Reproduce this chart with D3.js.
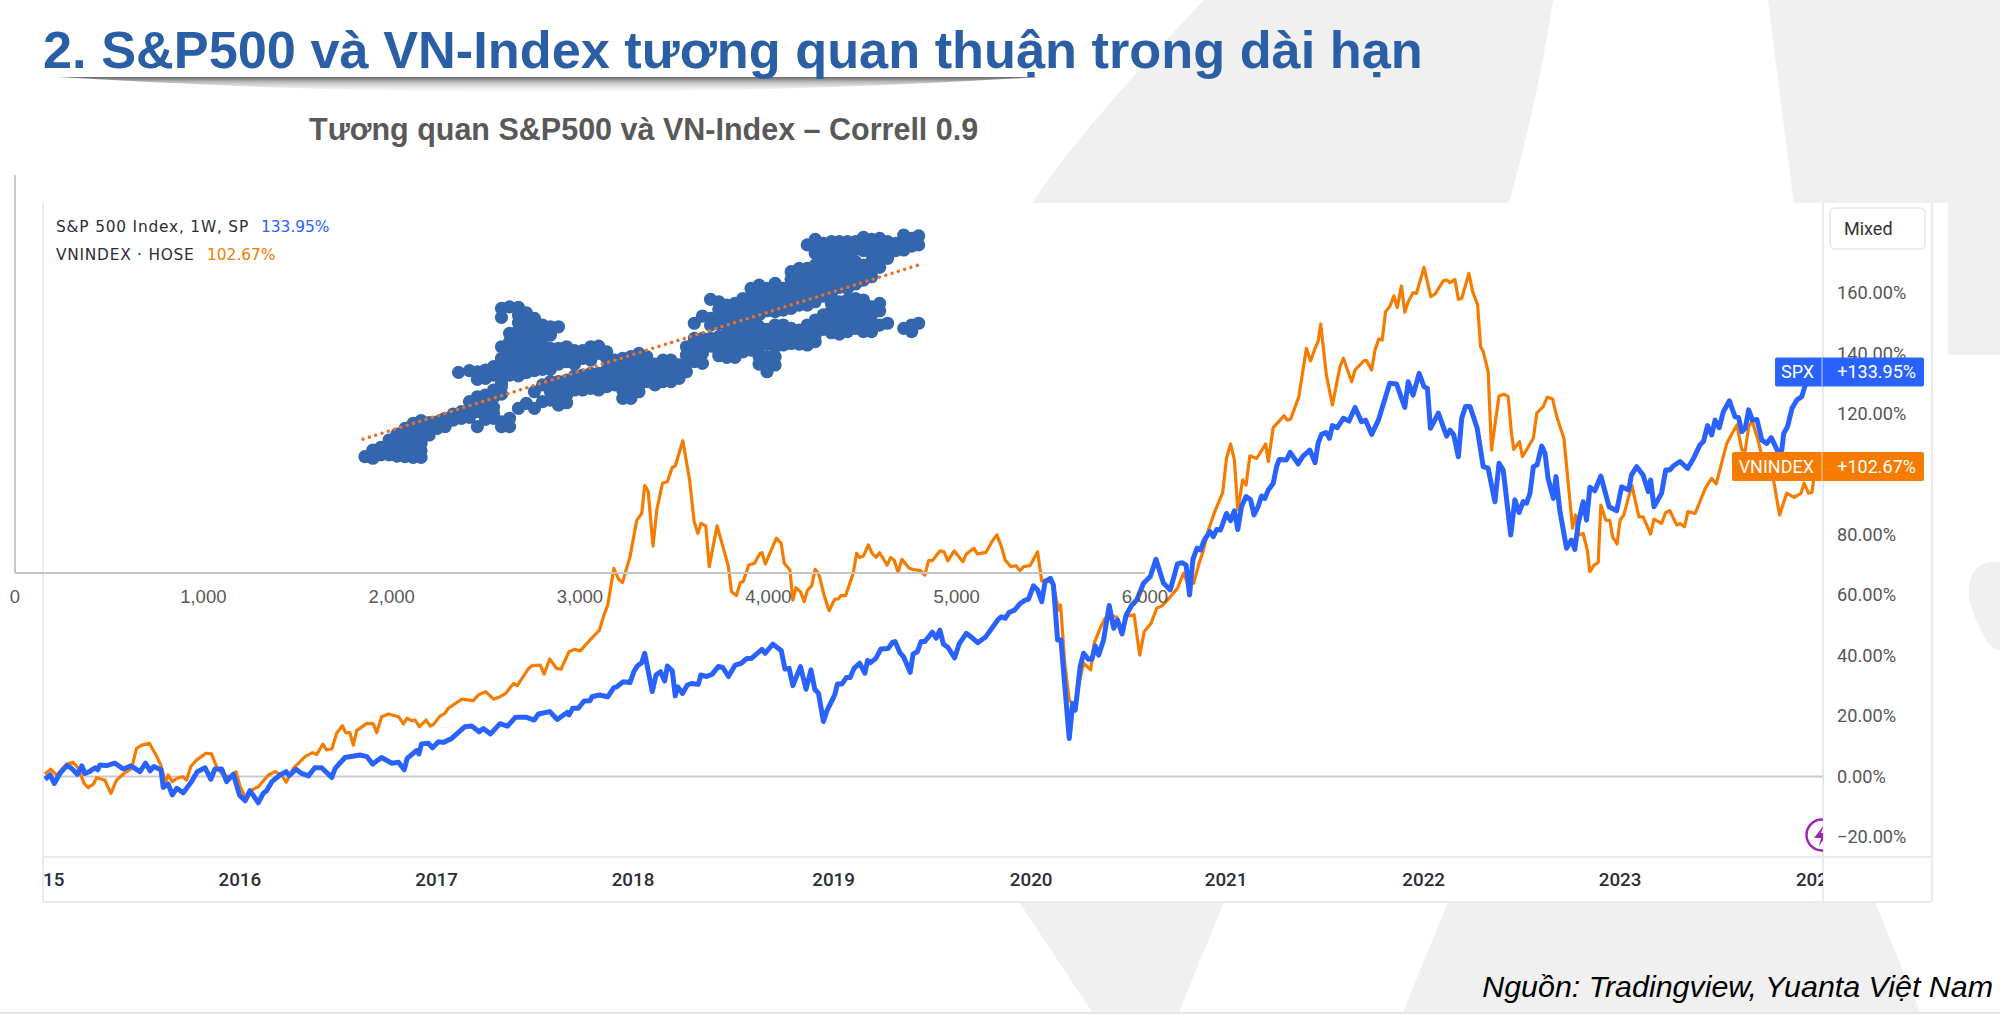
<!DOCTYPE html>
<html lang="vi"><head><meta charset="utf-8">
<script src="https://cdn.jsdelivr.net/npm/d3@7/dist/d3.min.js"></script>
<style>html,body{margin:0;padding:0;background:#fff}svg{display:block}</style>
</head><body><svg id="c" width="2000" height="1015"></svg>
<script>
const titleText="2. S&P500 và VN-Index tương quan thuận trong dài hạn";
const subtitleText="Tương quan S&P500 và VN-Index – Correll 0.9";
const sourceText="Nguồn: Tradingview, Yuanta Việt Nam";
const yearLabels=["2015","2016","2017","2018","2019","2020","2021","2022","2023","2024"];
const yearWeeks=[0,52.2,104.4,156.5,209.7,262.1,313.8,366.2,418.3,470.6];
const pctShown=[-20,0,20,40,60,80,120,140,160];
const scatterTicks=[0,1000,2000,3000,4000,5000,6000];
const spxWeeks=[0.5,1.9,3,4.5,6.3,7.6,9.1,10.3,11.1,12.3,13.8,14.5,15.1,16.9,19.1,21.3,23.3,25.7,27.2,28.4,29.4,31.3,31.9,33.2,34.3,35.5,37.2,39.4,40.9,43,44.5,45.6,47.4,48.7,50.5,52.1,53.6,54.9,57.1,58.4,59.3,60.7,62.9,64.5,65.3,67.1,68.6,70.4,72.1,73.9,76.6,77.5,80.1,84.1,85.9,87.4,89.8,92.5,94.3,95.8,96.6,99.1,99.7,100.4,102.2,103.3,104.9,106.2,108.4,111.9,113.7,115.7,116.8,118.7,121.2,123.2,125.3,128.3,130.3,131.4,134.4,136.4,139,139.5,140.5,142,143.5,145.1,145.6,147.6,149.8,151.4,152.2,153.9,155.7,156.7,157.7,158.8,159.6,161.6,162.6,163.8,164.9,165.6,166.9,167.7,168.4,169.6,170.9,172,173.8,174.5,176,177.5,179.1,180.3,181.8,183.6,185.2,186.7,187.9,190.7,191.5,193.6,195.8,196.8,197.9,198.9,200.9,202.4,203.7,204.7,205.7,207,208,210,210.7,211.9,213.1,214.1,215.1,216.6,218,218.7,219.5,220.9,222.2,224.2,225.3,226,227.3,228.3,230,230.8,231.9,232.9,233.9,235.9,236.9,237.9,238.8,240,241.8,243,244.9,246.1,247.9,250.1,253.2,254.2,255.2,256.2,257.7,259.2,260.5,261.4,262.7,263.8,264.9,265.8,267.2,268,269.1,270,272.2,273.1,273.8,275.1,276,277.3,278.2,279.1,280,281.3,282.8,284,285,286.2,287.3,288.8,290.1,291.9,293.7,295.2,297.2,299,300.9,302.1,303.2,304.1,305,306.1,307,308,309.5,310.4,311.3,312.3,313.9,315,316,316.9,317.9,319.1,320.3,321.2,322.3,323.2,324.1,325,326.3,327.2,327.9,329.8,330.8,332.9,334.1,336,337.4,338.2,339.1,340.3,341.2,342,343.3,344.9,346.4,348,349.7,350.8,352.4,354.2,357.2,359,361.2,362.1,363.4,365,366.3,367.2,368,370.1,372.3,373.2,374.2,375.4,376.3,377.3,378.5,380.4,382,383.3,385.1,386.2,387.3,389.3,390.4,391.5,392.6,393.5,394.4,395.3,396.3,397.5,398.4,399.2,400.6,401.3,402.3,404.1,405.4,406.3,407.2,408.5,409.4,410.3,411.6,413.2,415.4,417.4,418.7,420.6,421.3,422.7,424.4,425.8,426.4,427.3,429.3,430.4,431.5,432.4,434.2,436.2,437.8,439.5,440.4,441.5,442.6,443.5,444.6,445.7,447.3,448.8,449.7,450.6,451.5,452.4,453.4,454.6,455.9,457.2,458.4,460.3,461.2,461.7,462.7,463.9,465.2,466.5,467.4,468.3,470];
const spxPct=[-0.9,0.5,-2.3,1,3.6,2.7,0.7,3.5,1,1.6,2.9,2.2,3.8,3.6,4.4,2.5,3.5,1.6,4.4,1.9,3.3,2.2,-3.6,-2.5,-6.1,-3.9,-5.4,-1.7,1.6,2.9,-0.9,2.5,2.5,-1.7,0.8,-6.1,-8,-4.7,-8.7,-5.6,-4.7,-1.7,0.5,1.6,0.3,2.4,1,0.2,2.9,2.9,-0.3,2.7,6.3,7.1,6.6,4.1,6.3,4.4,4.7,2.2,6,8.6,7.5,10.8,11,9.5,11.5,11.3,12.6,16.5,16.7,14.8,15.9,14.1,17.5,16.7,19.6,19.6,18.7,20.7,21.5,18.9,21.2,20.4,22.6,22.6,25,25.1,26.4,27,26.4,29.4,29.7,31.4,31.1,34.7,36.7,37.7,40.8,28.1,33.6,34.7,31.6,36.6,35,26.7,29.7,27.5,30.3,30.8,30.5,33.6,33.1,33.9,36.4,36.1,33.1,36.9,37.5,39.1,39.1,42.1,40.8,43.8,41.7,35.6,35.8,30.1,36.4,28.9,35.3,28.9,27.5,18.2,22,27,30.6,30.6,32.8,32.8,35.8,37.5,34.2,38.4,37.7,39.1,42.2,42.4,44.4,44.7,41,39.5,34.5,40.6,41.3,44.7,44.7,47.8,45.8,48.5,43.9,42.8,39.3,43.9,47.4,46.3,44.3,46.3,51.8,52.9,52.4,54.3,55.1,57.3,58.4,58.7,63.1,61.8,57.9,64.5,65.6,63.4,45.2,45.2,12.6,24.2,22,36.4,40.8,38.8,38.8,43.2,40.2,45.2,56.6,49.1,51.8,47.2,53.5,56.8,58.4,64,66.2,71.9,64,61.8,70.4,70.8,70,60.1,71.9,75.6,75,78.3,81.1,79.4,81.8,81.6,87.1,84.7,88,81.8,89.4,92.7,91.6,86.6,89.4,92.9,92.1,94.9,97.1,102.6,105,104.8,107.3,103.5,105.9,108.1,103.9,110.3,113.3,113.9,112,116.2,115.5,118.6,117.7,122.2,117.5,118,113.3,118,130.2,130,122.2,130.7,126.3,133.5,129.1,128.5,115.3,120.3,112.7,114.7,113.1,105.9,118.6,122.5,122.5,115.3,102.6,102.1,91,103.7,101.5,80,91.6,87.4,91,90.5,93.8,102.6,103.2,109.4,107,98.7,92.1,99.3,88.2,75.6,78.3,75.2,83.8,91,84.9,95.8,94.6,99.5,89.3,88,95.9,94.9,99.8,102.6,99.8,94.3,98.2,89.3,93.8,101.5,101.5,102.8,104.3,102,105.4,109.8,110.9,116.2,113.1,118,115.5,120.8,124.4,119.1,118.9,114.2,115.3,121.4,118,118.2,111.4,110.3,112.2,107.2,108.1,113.6,115.8,121.9,124.7,125.8,129.6,131,133.95];
const vnWeeks=[0.5,2,3.6,6.3,8,9.4,10.9,12,13.4,14.2,16.4,18,19.5,21.8,23.5,24.8,26.2,28.2,30.2,31.3,32.5,33.2,34.3,35.5,37,38.1,39.2,40.8,43.2,44.7,46.2,47.8,49.6,51.2,52.3,54,55.3,57.1,59.8,61.5,63.3,64.5,66.4,69.5,71.5,72.6,74.2,75.2,76.6,77.9,79.4,80.3,81.4,82.3,83.2,85.9,87.6,88.5,89.8,91.6,94.3,95.6,96.5,97.8,98.7,99.8,101.6,102.7,103.5,105.3,106.6,107.5,111.1,114.1,115.5,117.4,119.5,121.2,122.7,124.8,125.8,128.8,129.8,131.9,132.9,134.4,136.2,137.4,139.5,141,142.5,145.1,147.6,148.8,149.8,151.4,152.7,153.7,155.7,157.5,158.8,159.6,160.5,161.8,162.8,164.3,165.6,166.9,167.7,169.7,171.5,172.7,173.7,174.5,175.8,176.7,178.8,181.8,182.6,183.9,185,185.7,187.2,188.7,190.2,190.7,191.6,194.5,195.8,196.6,198.1,198.9,199.7,200.9,201.9,202.7,203.9,204.8,205.7,207.3,208.5,210,211,211.6,212.9,214.9,215.8,216.6,217.6,218.9,219.9,221,221.9,223.9,224.8,225.8,226.8,227.8,229.8,231.4,232.7,233.9,234.9,235.9,237.9,239,240,241.7,244,244.9,246.9,247.8,250.1,251.7,253,254.2,255.2,256.7,258.1,259.1,260.1,261.8,263.8,264.9,265.9,267.9,268.4,269.4,269.9,271,272.2,273,273.8,275.1,276,277.9,278.8,280.4,281.7,282.9,284.8,286.2,287.5,289.4,290.9,292.1,293.9,295.4,296.8,299,300.9,302.5,303.8,305.2,306.5,307.8,309.1,310.8,312.9,313.9,315,316,316.9,318.2,319.1,320.1,321.9,324.3,325,326.3,329.2,330,330.9,333.1,335.1,336.2,337.4,338.2,338.9,340.4,342,344,344.9,347.1,348,350.4,351.1,352.4,353.3,354.3,355.2,356.1,357.2,358.3,359.2,360.3,361.2,362.1,363.4,364.3,366.3,368.1,369.2,371.4,372.3,373.2,374.5,375.4,376.3,378.2,379.2,380.5,381.3,382,383.3,384.2,385.4,386.2,387.5,388.6,389.5,390.1,391.6,392.4,395.3,396.2,397.9,399,400.4,401.5,403.4,405.7,406.5,407.4,408.5,409.6,410.3,411.4,412.5,413.2,414.5,415.6,416.3,417.5,418.3,419.3,421.4,423.3,424.4,426.4,427.3,429.3,430.4,431.5,433.3,434.2,435.4,436.3,438.2,440.9,442.6,443.8,446.6,448,449.3,450.6,451.5,452.4,453.3,455,457.2,459,460.6,462.5,464.5,466.3,467.1,468.3,469.2,470.1];
const vnPct=[0.8,2.4,0.5,4.1,4.7,2.7,-2.3,-3.7,-2.5,-0.4,-1.2,-5.6,-1.2,1.3,2.7,9.3,10.4,11,6.6,3.6,-2,0.5,-1.7,-0.6,-0.1,-1.2,3.3,5.5,7.7,7.5,2.7,0.5,-0.1,1.6,-3.4,-7.8,-4.5,-3.4,0.5,1.6,0.5,-1.9,2.7,6.6,7.9,7.3,10.7,8.8,9.1,14.3,16.8,14.5,14.5,10.4,15.2,17.6,17.4,14.5,19.8,20.7,19.8,17.4,19.3,18.5,18.7,16.5,18.7,16.7,17.1,20,20.9,22.6,25.6,25.1,27,28.1,25.6,26.4,27.5,30.8,30.1,35.8,36.7,36.9,33.9,38.9,35.8,35.5,41.3,42.1,41.6,45.2,48.5,53.5,56.8,68.9,65.3,64.2,72.8,84.9,87.1,96.3,94.5,76.3,88.2,97.1,97.6,102.3,102.8,111.2,98.2,84.4,80.5,83.8,83,69.5,83,69.5,61.2,59.9,64.3,64.5,70,70.6,73.9,74.1,70.4,78.9,77.2,70.6,68.4,58.4,62.5,61.2,57.9,61.5,63.2,68.6,67.3,59.5,54.9,58.7,58.8,59.9,59.9,67.3,73.9,72.5,73,76.7,73.9,72.6,74.1,70,72.5,71.5,67.6,71.9,68.9,68.4,68.2,66.7,71.5,71.5,74.7,74.4,71.4,74.7,71.1,73.7,75.6,73.7,74.2,77.8,80,76.1,71.7,69.5,69.8,68.2,69.5,69.8,74.4,64.7,65.1,64,60.7,55.1,56.8,37.5,25.3,24.2,22.6,32.5,37.5,35.3,44.1,49.1,52.4,53.5,52.7,48.5,53.1,53.5,40.2,48,50.7,55.7,56.5,59.5,62.3,67.3,63.4,64,70,75,81.6,87.7,94,105.3,110.1,104.8,88.3,98.2,96.5,106.2,105.3,110.1,104.3,115.5,119.5,118,118.3,125.8,141.8,137.6,141.8,144,149.8,132.9,123,135.7,138.5,130.7,134.6,137.7,137.7,134.6,141.2,144.9,144.5,153.9,155.6,159.1,155.3,162.4,153.7,157.2,160.2,160,168.6,158.9,159.7,164.1,164.4,163.5,164.6,158,158.3,166.6,160.5,156.3,142.3,140.7,134.1,108.1,119.1,126,126.6,125.8,113.6,108.3,110.9,105.9,112,120.3,122.5,125.6,125,119.2,112,82.2,86.6,80,80.5,75,67.8,70,70.9,89.9,84.9,84.7,79.4,77,84.9,86.6,96.5,86,86,80.3,85.2,83.8,87.4,88,83.3,83.8,82.7,87.7,87.1,95.4,98.7,96.9,110.3,113.6,116.4,108.1,107.9,115.8,117.8,110.9,98.7,98.2,86.6,93.8,92.4,93.8,97.1,93.8,94.1,102.67];
// scatter: S&P 500 level (one entry per column) and the VN-Index levels read in that column
const scatterSp=[1858,1900,1943,1986,2028,2071,2114,2156,2199,2242,2284,2327,2355,2370,2413,2455,2498,2541,2583,2626,2673,2715,2758,2801,2843,2886,2929,2971,3014,3057,3099,3142,3185,3227,3270,3313,3355,3398,3441,3483,3526,3565,3607,3650,3693,3737,3780,3823,3865,3908,3951,3993,4036,4079,4121,4164,4207,4249,4292,4335,4377,4420,4463,4505,4548,4591,4633,4676,4719,4761,4798];
const scatterVn=[
[530],[560,523],[573,538],[606,573,538],[633,598,563,533],[659,624,591,557,530],[682,648,614,579,545,527],[694,659,624,591,557,527],
[685,651,629],[689,659],[705,667],[724,697],[914],[735,705],[922,781,746,709],[917,882,803,770,735,667],[925,887,811,776,743,700],[940,902,834,800,755,727,705],
[1206,1165,1031,978,948,910,864,849,815,689,667],[1213,1092,1054,1016,978,940,902,705,667],[1210,1176,1141,1107,1069,1034,1001,967,932,898,750],
[1186,1153,1119,1084,1049,1016,983,948,913,773],[1160,1125,1092,1059,1024,989,955,922,826,750],[1130,1100,1065,1031,998,963,928,857,781],
[1122,1084,1024,989,955,928,872,826,788],[1122,1024,989,952,872,841,803,765],[1031,998,963,879,849,811,776],[1013,978,952,898,864,834],[1013,978,902,864,834],
[1031,998,970,910,879,841],[1034,1001,910,872,834],[1008,978,925,887,849],[970,932,895,857],[978,943,910,872,834,796],[986,952,917,882,841,796],[1001,967,932,898,857,826],
[986,948,910,872],[952,917,882,857],[970,936,902,872],[970,932,895,872],[948,910,887],[1031,993,955,917],[1138,1069,1031,993,963],[1171,1069,1031,1001,955],[1247,1160,1130,1069,1034],
[1236,1201,1168,1134,1077,1043,1008,990],[1221,1186,1153,1122,1084,1049,1016,983],[1229,1195,1160,1130,1084,1049,1016,983],[1251,1217,1183,1150,1107,1074,1039,1008],
[1297,1262,1229,1195,1160,1115,1080,1046,1016],[1312,1277,1244,1210,1176,1122,1092,1062,1031,986,952],[1297,1262,1229,1195,1110,1077,1043,986,952,917],
[1320,1286,1251,1217,1191,1130,1095,1062,1031,986,948],[1297,1262,1229,1198,1130,1095,1062,1039],[1373,1338,1305,1271,1236,1206,1115,1080,1046],[1388,1353,1320,1286,1251,1221,1107,1074,1043],
[1495,1388,1353,1320,1286,1251,1221,1130,1095,1062,1039],[1520,1484,1457,1403,1368,1335,1302,1267,1236,1153,1119,1084,1054],[1502,1469,1426,1393,1358,1323,1289,1262,1176,1141,1110],
[1510,1475,1449,1414,1381,1343,1308,1274,1229,1195,1160,1125,1095],[1510,1475,1441,1408,1373,1338,1302,1236,1201,1168,1130,1089],[1510,1475,1434,1403,1368,1335,1297,1244,1210,1176,1138,1100],
[1510,1475,1419,1384,1350,1317,1251,1217,1183,1145,1115],[1529,1495,1469,1403,1368,1335,1244,1206,1168,1130,1100],[1520,1487,1457,1419,1384,1350,1213,1176,1138,1100],[1525,1490,1460,1426,1393,1229,1195,1130],[1510,1475,1434,1138],[1502,1469],[1540,1505,1472,1115],[1525,1490,1130,1100],[1536,1495,1138]];
const trendSp=[1848,4795], trendVn=[610,1403];

const svg=d3.select("#c");
const defs=svg.append("defs");
const sans='"Liberation Sans",Arial,sans-serif', tv='Roboto,"Open Sans",sans-serif', dj='"DejaVu Sans",sans-serif';

// ---- watermark background
const wm=svg.append("g").attr("fill","#f0f0f1");
wm.append("path").attr("d","M1204,0 Q1080,130 1032,203 L1509,203 Q1540,90 1553,0 Z");
wm.append("path").attr("d","M1768,0 L2000,0 L2000,355 L1813,355 Z");
wm.append("path").attr("d","M1019,902 L1092,1012 L1179,1012 L1224,902 Z");
wm.append("path").attr("d","M1448,902 L1403,1012 L1920,1012 L1875,902 Z");
wm.append("path").attr("d","M1969,600 Q1966,566 1990,562 L2000,562 L2000,650 Q1985,650 1969,600 Z");
svg.append("rect").attr("x",0).attr("y",203).attr("width",1948).attr("height",699).attr("fill","#fff");
svg.append("rect").attr("x",0).attr("y",1012).attr("width",2000).attr("height",2).attr("fill","#e6e6e6");

// ---- title
const lg=defs.append("linearGradient").attr("id","sh").attr("x1",0).attr("x2",0).attr("y1",0).attr("y2",1);
lg.append("stop").attr("offset",0).attr("stop-color","#6a6a6a");
lg.append("stop").attr("offset",0.3).attr("stop-color","#b4b4b4");
lg.append("stop").attr("offset",1).attr("stop-color","#f2f2f2").attr("stop-opacity",0.2);
svg.append("path").attr("d","M58,77 L1040,77 Q800,92 550,92 Q300,92 58,77 Z").attr("fill","url(#sh)");
svg.append("text").attr("x",43).attr("y",68).attr("font-family",sans).attr("font-weight",700).attr("font-size",52.3).attr("fill","#2a5fa5").text(titleText);
svg.append("text").attr("x",309).attr("y",140).attr("font-family",sans).attr("font-weight",700).attr("font-size",30.5).attr("fill","#595959").text(subtitleText);
svg.append("text").attr("x",1993).attr("y",997).attr("text-anchor","end").attr("font-family",sans).attr("font-style","italic").attr("font-size",30.4).attr("fill","#000").text(sourceText);

// ---- TradingView frame
const x=d3.scaleLinear().domain([0,470]).range([43,1815]);
const y=d3.scaleLinear().domain([0,160]).range([776.5,293.3]);
const frame=svg.append("g").attr("stroke","#e9eaf0").attr("stroke-width",2);
[[43,203,43,902],[1823,203,1823,902],[1932,203,1932,902],[43,857,1932,857],[43,902,1932,902]].forEach(d=>frame.append("line").attr("x1",d[0]).attr("y1",d[1]).attr("x2",d[2]).attr("y2",d[3]));
svg.append("line").attr("x1",43).attr("x2",1823).attr("y1",y(0)).attr("y2",y(0)).attr("stroke","#c9cad4").attr("stroke-width",2);

defs.append("clipPath").attr("id","plot").append("rect").attr("x",44).attr("y",203).attr("width",1779).attr("height",699);
const plot=svg.append("g").attr("clip-path","url(#plot)");
const lineGen=d3.line().x(d=>x(d[0])).y(d=>y(d[1]));
plot.append("path").attr("d",lineGen(d3.zip(vnWeeks,vnPct))).attr("fill","none").attr("stroke","#f57c00").attr("stroke-width",3.2).attr("stroke-linejoin","round");
plot.append("path").attr("d",lineGen(d3.zip(spxWeeks,spxPct))).attr("fill","none").attr("stroke","#2962ff").attr("stroke-width",5).attr("stroke-linejoin","round");

// purple badge
const badge=plot.append("g").attr("transform","translate(1822,835)");
badge.append("circle").attr("r",15.5).attr("fill","#fff").attr("stroke","#9c27b0").attr("stroke-width",2.5);
badge.append("path").attr("d","M2,-10 L-8,3 L-1,3 L-3,11 L6,-2 L-1,-2 Z").attr("fill","#9c27b0");

// year axis
plot.append("g").selectAll("text").data(yearLabels).join("text")
  .attr("x",(d,i)=>x(yearWeeks[i])).attr("y",886).attr("text-anchor","middle")
  .attr("font-family",tv).attr("font-weight",500).attr("font-size",18.8).attr("fill","#2a2e39").text(d=>d);

// pct axis labels
svg.append("g").selectAll("text").data(pctShown).join("text")
  .attr("x",1837).attr("y",d=>y(d)+6).attr("font-family",tv).attr("font-size",18.2).attr("fill","#555")
  .text(d=>d3.format(".2f")(d)+"%");

// price labels
function tag(label,val,color,yv,left){
  const g=svg.append("g");
  const cy=y(yv);
  g.append("rect").attr("x",left).attr("y",cy-14.5).attr("width",1924-left).attr("height",29).attr("rx",2).attr("fill",color);
  g.append("line").attr("x1",1822).attr("x2",1822).attr("y1",cy-14.5).attr("y2",cy+14.5).attr("stroke","#fff").attr("stroke-opacity",.7);
  g.append("text").attr("x",1814).attr("y",cy+6.5).attr("text-anchor","end").attr("font-family",tv).attr("font-size",18).attr("fill","#fff").text(label);
  g.append("text").attr("x",1916).attr("y",cy+6.5).attr("text-anchor","end").attr("font-family",tv).attr("font-size",18).attr("fill","#fff").text(val);
}
tag("SPX","+133.95%","#2962ff",133.95,1775);
tag("VNINDEX","+102.67%","#f57c00",102.67,1732);

// Mixed button
svg.append("rect").attr("x",1830).attr("y",208).attr("width",95).attr("height",41).attr("rx",5).attr("fill","#fff").attr("stroke","#e6e8f0").attr("stroke-width",1.5);
svg.append("text").attr("x",1844).attr("y",235).attr("font-family",tv).attr("font-size",18).attr("fill","#333").text("Mixed");

// legend
const leg=svg.append("g").attr("font-family",dj).attr("font-size",15.4);
leg.append("text").attr("x",56).attr("y",232).attr("fill","#2a2e39").attr("letter-spacing",0.8).text("S&P 500 Index, 1W, SP");
leg.append("text").attr("x",261).attr("y",232).attr("fill","#2962ff").text("133.95%");
leg.append("text").attr("x",56).attr("y",260).attr("fill","#2a2e39").attr("letter-spacing",0.75).text("VNINDEX · HOSE");
leg.append("text").attr("x",207).attr("y",260).attr("fill","#f57c00").text("102.67%");

// ---- scatter overlay
const sx=d3.scaleLinear().domain([0,6000]).range([15,1145]);
const sy=d3.scaleLinear().domain([0,1800]).range([573,178]);
svg.append("line").attr("x1",sx(0)).attr("x2",sx(0)).attr("y1",175).attr("y2",573).attr("stroke","#c9c9c9").attr("stroke-width",2);
svg.append("line").attr("x1",sx(0)).attr("x2",sx(6000)).attr("y1",573).attr("y2",573).attr("stroke","#c4c4c4").attr("stroke-width",2);
svg.append("g").selectAll("text").data(scatterTicks).join("text")
  .attr("x",d=>sx(d)).attr("y",603).attr("text-anchor","middle").attr("font-family",sans).attr("font-size",18.5).attr("fill","#595959").text(d=>d3.format(",")(d));

const pts=scatterSp.flatMap((s,i)=>scatterVn[i].map(v=>[s,v]));
svg.append("g").attr("fill","#3366ad").selectAll("circle").data(pts).join("circle")
  .attr("cx",d=>sx(d[0])).attr("cy",d=>sy(d[1])).attr("r",6.6);
svg.append("line").attr("x1",sx(trendSp[0])).attr("y1",sy(trendVn[0])).attr("x2",sx(trendSp[1])).attr("y2",sy(trendVn[1]))
  .attr("stroke","#e8702a").attr("stroke-width",3.6).attr("stroke-linecap","round").attr("stroke-dasharray","0 6.6");
</script></body></html>
